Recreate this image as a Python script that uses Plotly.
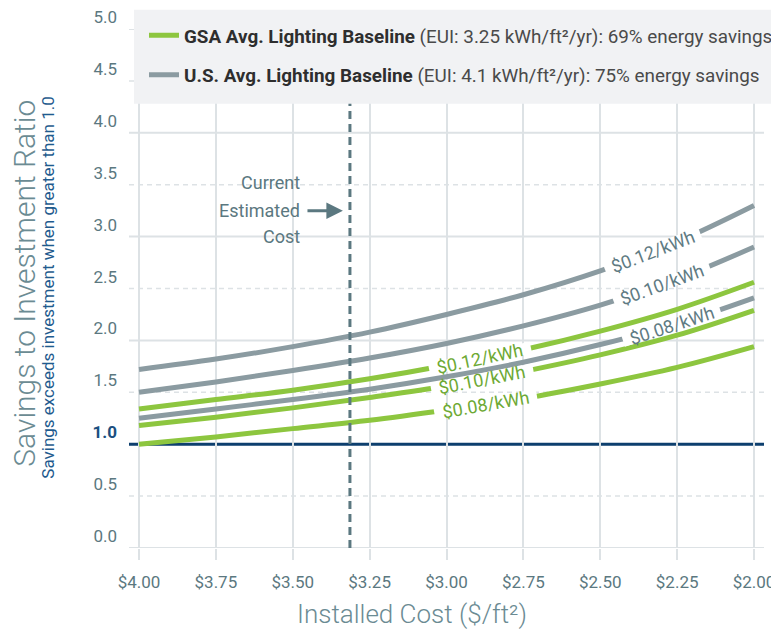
import numpy as np
import plotly.graph_objects as go

# ---------------- data ----------------
cost = [4.00, 3.75, 3.50, 3.25, 3.00, 2.75, 2.50, 2.25, 2.00]
x_tick_labels = ["$4.00", "$3.75", "$3.50", "$3.25", "$3.00", "$2.75", "$2.50", "$2.25", "$2.00"]

gsa_012 = [1.34, 1.43, 1.52, 1.63, 1.76, 1.91, 2.09, 2.30, 2.56]
gsa_010 = [1.18, 1.26, 1.35, 1.45, 1.56, 1.70, 1.86, 2.05, 2.29]
gsa_008 = [1.00, 1.07, 1.15, 1.23, 1.33, 1.44, 1.58, 1.74, 1.94]
us_012 = [1.72, 1.82, 1.94, 2.08, 2.25, 2.44, 2.67, 2.95, 3.30]
us_010 = [1.50, 1.60, 1.71, 1.83, 1.97, 2.14, 2.34, 2.59, 2.90]
us_008 = [1.25, 1.34, 1.43, 1.53, 1.65, 1.79, 1.96, 2.16, 2.41]

y_tick_vals = [0.0, 0.5, 1.0, 1.5, 2.0, 2.5, 3.0, 3.5, 4.0, 4.5, 5.0]
current_cost = 3.314
breakeven_sir = 1.0

# ---------------- layout geometry (page has an 8px body margin) ----------------
OFF = 8
W, H = 779 - OFF, 632 - OFF
L, R = 121, 15
T, B_PX = 21.3, 540.3          # plot top / bottom in figure pixels
PW, PH = W - L - R, B_PX - T


def wx(x):  # window x pixel -> paper x
    return (x - OFF - L) / PW


def wy(y):  # window y pixel -> paper y
    return (B_PX - (y - OFF)) / PH


# ---------------- style ----------------
FONT = "Roboto, Liberation Sans, sans-serif"
GREEN = "#8dc63f"
GRAY = "#8b9ba1"
GREEN_TXT = "#6da934"
GRAY_TXT = "#5f7b83"
AXIS_TXT = "#5b7880"
NAVY = "#0d3f6e"
GRID = "#dde2e5"

fig = go.Figure()

gsa_name = ("<b><span style='color:#2e2e2e'>GSA Avg. Lighting Baseline</span></b>"
            " (EUI: 3.25 kWh/ft²/yr): 69% energy savings")
us_name = ("<b><span style='color:#2e2e2e'>U.S. Avg. Lighting Baseline</span></b>"
           " (EUI: 4.1 kWh/ft²/yr): 75% energy savings")

series = [
    (gsa_012, GREEN, "gsa", gsa_name, True),
    (gsa_010, GREEN, "gsa", gsa_name, False),
    (gsa_008, GREEN, "gsa", gsa_name, False),
    (us_012, GRAY, "us", us_name, True),
    (us_010, GRAY, "us", us_name, False),
    (us_008, GRAY, "us", us_name, False),
]
for vals, col, grp, name, show in series:
    fig.add_trace(go.Scatter(
        x=cost, y=vals, mode="lines", name=name,
        line=dict(color=col, width=5, shape="spline", smoothing=1.0),
        legendgroup=grp, showlegend=show, hoverinfo="skip",
    ))

shapes = []
# horizontal grid: dashed on halves, solid on whole numbers
for v in y_tick_vals:
    if float(v).is_integer():
        shapes.append(dict(type="line", xref="paper", yref="y", x0=0, x1=1, y0=v, y1=v,
                           line=dict(color=GRID, width=2), layer="below"))
    else:
        shapes.append(dict(type="line", xref="paper", yref="y", x0=0, x1=1, y0=v, y1=v,
                           line=dict(color=GRID, width=1.5, dash="5px,4px"), layer="below"))
# break-even line
shapes.append(dict(type="line", xref="paper", yref="y", x0=0, x1=1,
                   y0=breakeven_sir, y1=breakeven_sir,
                   line=dict(color=NAVY, width=3), layer="below"))
# current estimated cost
shapes.append(dict(type="line", xref="x", yref="y", x0=current_cost, x1=current_cost,
                   y0=0, y1=4.3, line=dict(color="#5b7880", width=3, dash="8px,5px"),
                   layer="above"))


def rect_path(w, h, ang):
    t = np.radians(ang)
    ux, uy = np.cos(t), np.sin(t)
    nx, ny = -np.sin(t), np.cos(t)
    pts = []
    for a, b in [(-1, -1), (1, -1), (1, 1), (-1, 1)]:
        pts.append((a * w / 2 * ux + b * h / 2 * nx, a * w / 2 * uy + b * h / 2 * ny))
    return "M " + " L ".join(f"{px:.2f},{py:.2f}" for px, py in pts) + " Z"


labels = [
    ("$0.12/kWh", us_012, 2.330, 21, GRAY_TXT, 102),
    ("$0.10/kWh", us_010, 2.300, 20, GRAY_TXT, 102),
    ("$0.08/kWh", us_008, 2.268, 18, GRAY_TXT, 102),
    ("$0.12/kWh", gsa_012, 2.891, 12, GREEN_TXT, 104),
    ("$0.10/kWh", gsa_010, 2.884, 11, GREEN_TXT, 104),
    ("$0.08/kWh", gsa_008, 2.873, 10, GREEN_TXT, 104),
]
annotations = []
for txt, vals, lx, ang, col, w in labels:
    ly = float(np.interp(lx, cost[::-1], vals[::-1]))
    shapes.append(dict(type="path", xref="x", yref="y", xsizemode="pixel", ysizemode="pixel",
                       xanchor=lx, yanchor=ly, path=rect_path(w, 12, ang),
                       fillcolor="white", line=dict(width=0), layer="above"))
    annotations.append(dict(x=lx, y=ly, xref="x", yref="y", text=txt, showarrow=False,
                            textangle=-ang, font=dict(family=FONT, size=18, color=col),
                            xanchor="center", yanchor="middle", borderpad=0))

# legend panel
shapes.append(dict(type="rect", xref="paper", yref="paper",
                   x0=wx(134), x1=wx(779), y0=wy(104), y1=wy(10),
                   fillcolor="#f1f2f4", line=dict(width=0), layer="above"))

# "Current Estimated Cost" note (one line each, to keep the original line spacing)
for word, ypix in [("Current", 183), ("Estimated", 210.5), ("Cost", 237)]:
    annotations.append(dict(x=3.47, y=wy(ypix), xref="x", yref="paper", text=word,
                            showarrow=False, xanchor="right", yanchor="middle",
                            font=dict(family=FONT, size=18, color=AXIS_TXT)))
annotations.append(dict(x=3.337, y=3.25, xref="x", yref="y", ax=3.457, ay=3.25,
                        axref="x", ayref="y", text="", showarrow=True,
                        arrowhead=2, arrowsize=1.1, arrowwidth=3, arrowcolor=AXIS_TXT))

# axis titles
annotations.append(dict(x=wx(25), y=wy(284), xref="paper", yref="paper",
                        text="Savings to Investment Ratio", textangle=-90, showarrow=False,
                        xanchor="center", yanchor="middle",
                        font=dict(family=FONT, size=30, color="#6b8b93", weight=300)))
annotations.append(dict(x=wx(48), y=wy(288), xref="paper", yref="paper",
                        text="Savings exceeds investment when greater than 1.0", textangle=-90,
                        showarrow=False, xanchor="center", yanchor="middle",
                        font=dict(family=FONT, size=17, color="#1f5b8e")))
annotations.append(dict(x=wx(412), y=wy(614), xref="paper", yref="paper",
                        text="Installed Cost ($/ft²)", showarrow=False,
                        xanchor="center", yanchor="middle",
                        font=dict(family=FONT, size=26, color="#6b8b93", weight=300)))

y_tick_text = [f"{v:.1f}" for v in y_tick_vals]
y_tick_text[2] = "<b><span style='color:#1b4f80'>1.0</span></b>"

fig.update_layout(
    width=W, height=H,
    margin=dict(l=L, r=R, t=T, b=H - B_PX, autoexpand=False),
    paper_bgcolor="white", plot_bgcolor="white",
    font=dict(family=FONT, size=17, color=AXIS_TXT),
    showlegend=True,
    legend=dict(x=wx(142), y=wy(16.7), xanchor="left", yanchor="top",
                bgcolor="rgba(0,0,0,0)", borderwidth=0, traceorder="grouped",
                tracegroupgap=12, indentation=2,
                font=dict(family=FONT, size=18.85, color="#4a4a4a")),
    xaxis=dict(range=[4.0325, 1.9675], tickvals=cost, ticktext=x_tick_labels,
               showgrid=True, gridcolor=GRID, gridwidth=2, zeroline=False,
               showline=False, ticks="outside", ticklen=11, tickwidth=2, tickcolor=GRID,
               ticklabelstandoff=8,
               tickfont=dict(family=FONT, size=17, color=AXIS_TXT)),
    yaxis=dict(range=[0, 5], tickvals=y_tick_vals, ticktext=y_tick_text,
               showgrid=False, zeroline=False, showline=False, ticks="",
               ticklabelposition="outside top", ticklabelstandoff=11,
               ticklabeloverflow="allow",
               tickfont=dict(family=FONT, size=17, color=AXIS_TXT)),
    shapes=shapes, annotations=annotations,
)

fig.write_html("out.html")
